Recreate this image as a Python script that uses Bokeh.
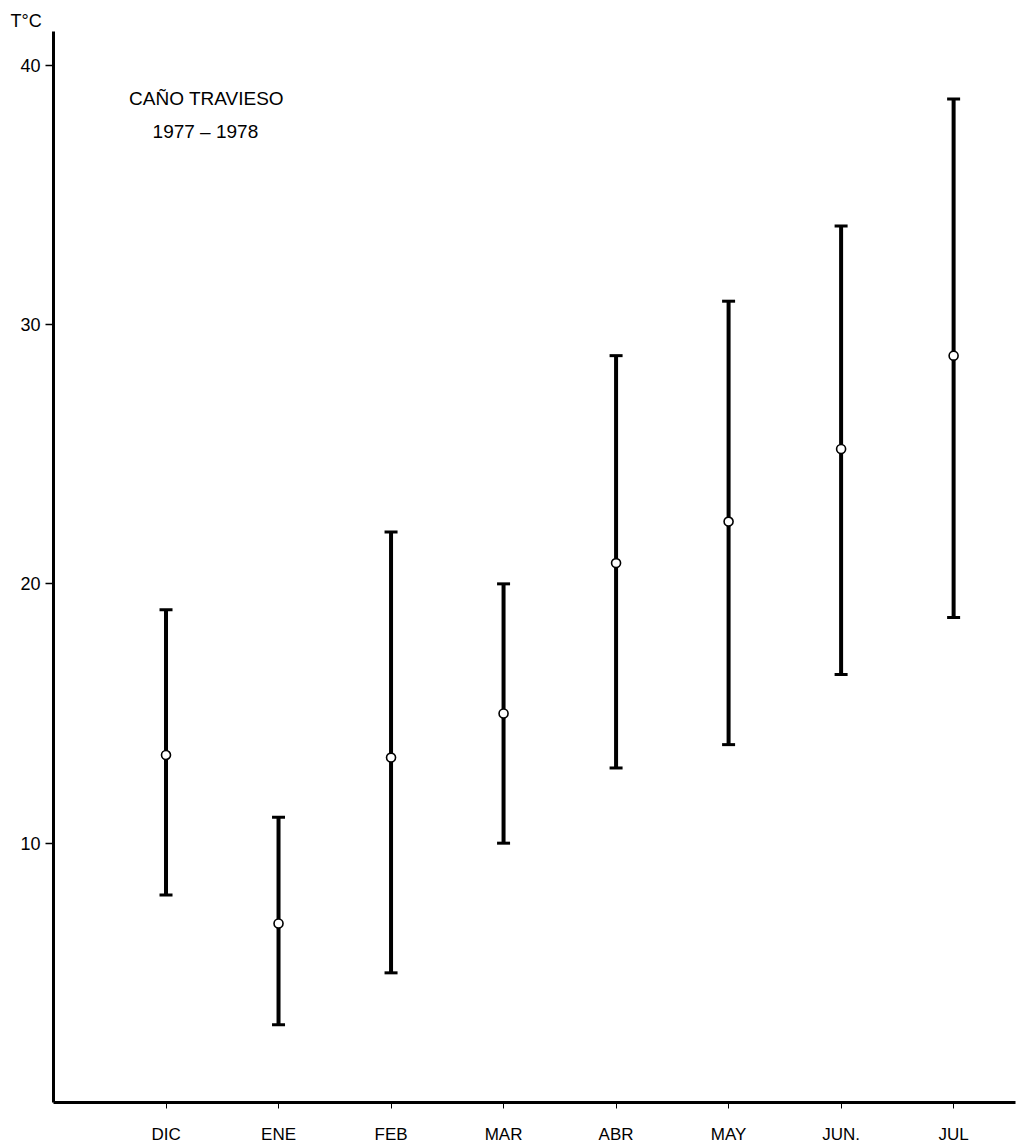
from bokeh.plotting import figure
from bokeh.models import Range1d, FixedTicker, Label, ColumnDataSource
from bokeh.embed import file_html
from bokeh.resources import INLINE

# ---- data ----
months = ["DIC", "ENE", "FEB", "MAR", "ABR", "MAY", "JUN.", "JUL"]
t_mean = [13.4, 6.9, 13.3, 15.0, 20.8, 22.4, 25.2, 28.8]
t_max = [19.0, 11.0, 22.0, 20.0, 28.8, 30.9, 33.8, 38.7]
t_min = [8.0, 3.0, 5.0, 10.0, 12.9, 13.8, 16.5, 18.7]
y_ticks = [10, 20, 30, 40]
title_lines = ["CAÑO TRAVIESO", "1977 – 1978"]
y_unit = "T°C"

xpos = list(range(1, len(months) + 1))
src = ColumnDataSource(dict(x=xpos, mean=t_mean, hi=t_max, lo=t_min))

FONT = "Liberation Sans"

p = figure(width=1018, height=1146, output_backend="svg", toolbar_location=None,
           x_range=Range1d(0, 8.55), y_range=Range1d(0, 41.3),
           min_border_left=53, min_border_right=3, min_border_top=31, min_border_bottom=42)
p.outline_line_color = None
p.xgrid.visible = False
p.ygrid.visible = False
p.background_fill_color = "white"
p.border_fill_color = "white"

# unit label at top-left, as the plot title
p.title.text = y_unit
p.title.align = "left"
p.title.offset = -43
p.title.standoff = 1
p.title.text_font = FONT
p.title.text_font_size = "18px"
p.title.text_font_style = "normal"
p.title.text_color = "black"

# error bars
p.segment(x0="x", y0="lo", x1="x", y1="hi", source=src, line_color="black", line_width=4)
p.scatter(x="x", y="hi", source=src, marker="dash", size=13, line_color="black", line_width=3)
p.scatter(x="x", y="lo", source=src, marker="dash", size=13, line_color="black", line_width=3)
p.scatter(x="x", y="mean", source=src, marker="circle", size=9, fill_color="white",
          line_color="black", line_width=1.6)

# axes
ya = p.yaxis[0]
ya.ticker = FixedTicker(ticks=y_ticks)
ya.axis_line_width = 3
ya.major_tick_line_width = 1.5
ya.major_tick_out = 8
ya.major_tick_in = 0
ya.minor_tick_line_color = None
ya.major_label_text_font = FONT
ya.major_label_text_font_size = "18px"
ya.major_label_text_color = "black"
ya.major_label_standoff = 5

xa = p.xaxis[0]
xa.ticker = FixedTicker(ticks=xpos)
xa.major_label_overrides = {i: m for i, m in zip(xpos, months)}
xa.axis_line_width = 3
xa.major_tick_line_width = 1
xa.major_tick_out = 6
xa.major_tick_in = 0
xa.minor_tick_line_color = None
xa.major_label_text_font = FONT
xa.major_label_text_font_size = "17px"
xa.major_label_text_color = "black"
xa.major_label_standoff = 16

# texts
p.add_layout(Label(x=1.36, y=38.73, text=title_lines[0], text_align="center",
                   text_baseline="middle", text_font=FONT, text_font_size="19px",
                   text_color="black"))
p.add_layout(Label(x=1.35, y=37.46, text=title_lines[1], text_align="center",
                   text_baseline="middle", text_font=FONT, text_font_size="19px",
                   text_color="black"))

open("out.html", "w").write(file_html(p, INLINE))
